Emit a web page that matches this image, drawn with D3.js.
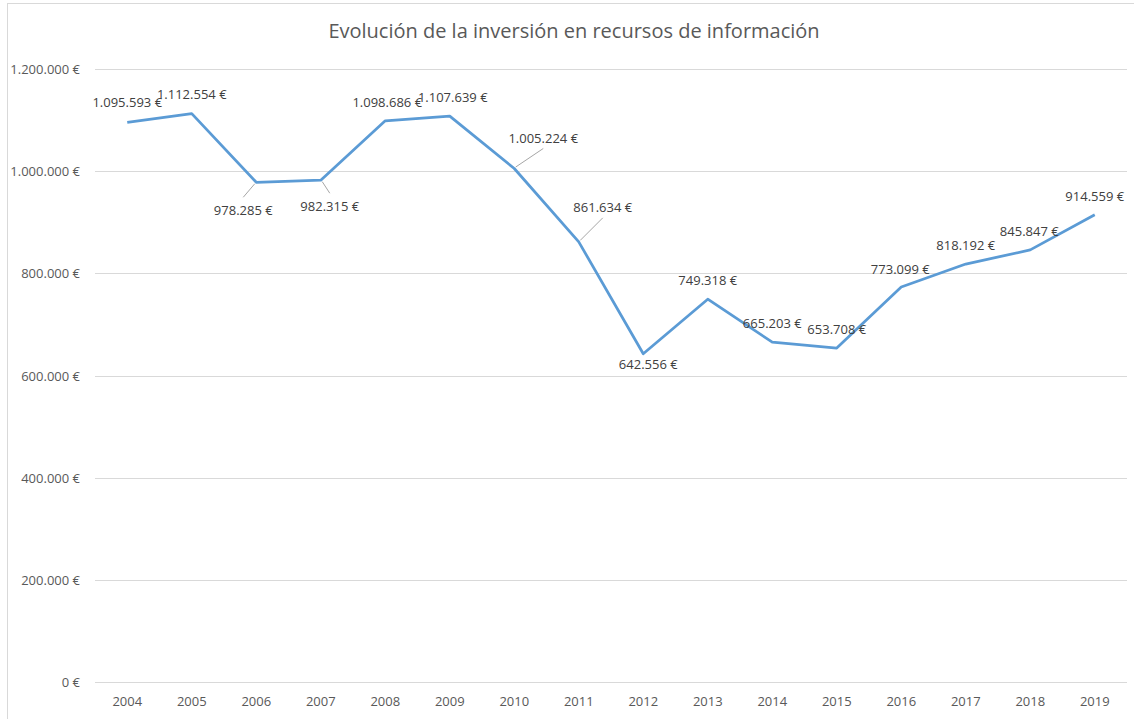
<!DOCTYPE html>
<html>
<head>
<meta charset="utf-8">
<script src="https://cdn.jsdelivr.net/npm/d3@7"></script>
<style>
  body { margin: 0; background: #fff; }
  svg { display: block; font-family: "Open Sans", sans-serif; }
  .grid line { stroke: #d9d9d9; stroke-width: 1; }
  .tick-label { fill: #595959; font-size: 13px; }
  .data-label { fill: #404040; font-size: 13px; }
  .leader { stroke: #a6a6a6; stroke-width: 1; }
  .title { fill: #595959; font-size: 20px; }
</style>
</head>
<body>
<svg id="chart" width="1134" height="719"></svg>
<script>
const TITLE = 'Evolución de la inversión en recursos de información';
const years = ['2004', '2005', '2006', '2007', '2008', '2009', '2010', '2011',
  '2012', '2013', '2014', '2015', '2016', '2017', '2018', '2019'];
const inversion = [1095593, 1112554, 978285, 982315, 1098686, 1107639, 1005224, 861634,
  642556, 749318, 665203, 653708, 773099, 818192, 845847, 914559];
const yTicks = [0, 200000, 400000, 600000, 800000, 1000000, 1200000];

// where excel put each data label, relative to its point (dx, dy) + optional leader line end
const labelPlacement = [
  { dx: 0, dy: -20 }, { dx: 0, dy: -20 },
  { dx: -13, dy: 28, lx: -13, ly: 15 }, { dx: 9, dy: 26, lx: 9, ly: 13 },
  { dx: 2, dy: -19 }, { dx: 3, dy: -19 },
  { dx: 29, dy: -30, lx: 29, ly: -20 }, { dx: 24, dy: -35, lx: 24, ly: -24 },
  { dx: 5, dy: 10 }, { dx: 0, dy: -19 }, { dx: 0, dy: -19 }, { dx: 0, dy: -19 },
  { dx: -1, dy: -18 }, { dx: 0, dy: -19 }, { dx: -1, dy: -19 }, { dx: 0, dy: -19 }
];

const MARGIN = { TOP: 69, BOTTOM: 37, LEFT: 95, RIGHT: 7 };
const WIDTH = 1134, HEIGHT = 719;

const euroLocale = d3.formatLocale({ decimal: ',', thousands: '.', grouping: [3], currency: ['', ' €'] });
const fmt = v => euroLocale.format(',d')(v) + ' €';

const svg = d3.select('#chart');

// chart area border (runs off the right and bottom like the screenshot)
svg.append('rect')
  .attr('x', 7.5).attr('y', 3.5)
  .attr('width', 1140).attr('height', 740)
  .attr('fill', 'none')
  .attr('stroke', '#d9d9d9');

svg.append('text')
  .attr('class', 'title')
  .attr('x', 574)
  .attr('y', 30)
  .attr('text-anchor', 'middle')
  .attr('dominant-baseline', 'central')
  .text(TITLE);

const x = d3.scaleBand()
  .domain(years)
  .range([MARGIN.LEFT, WIDTH - MARGIN.RIGHT]);

const y = d3.scaleLinear()
  .domain([0, 1200000])
  .range([HEIGHT - MARGIN.BOTTOM, MARGIN.TOP]);

const cx = d => x(d) + x.bandwidth() / 2;

const grid = svg.append('g').attr('class', 'grid');
grid.selectAll('line')
  .data(yTicks)
  .enter()
  .append('line')
  .attr('x1', MARGIN.LEFT)
  .attr('x2', WIDTH - MARGIN.RIGHT)
  .attr('y1', d => Math.round(y(d)) + 0.5)
  .attr('y2', d => Math.round(y(d)) + 0.5);

svg.selectAll('.ylab')
  .data(yTicks)
  .enter()
  .append('text')
  .attr('class', 'tick-label ylab')
  .attr('x', 80)
  .attr('y', d => y(d))
  .attr('text-anchor', 'end')
  .attr('dominant-baseline', 'central')
  .text(fmt);

svg.selectAll('.xlab')
  .data(years)
  .enter()
  .append('text')
  .attr('class', 'tick-label xlab')
  .attr('x', cx)
  .attr('y', 701)
  .attr('text-anchor', 'middle')
  .attr('dominant-baseline', 'central')
  .text(d => d);

const points = years.map((yr, i) => ({ year: yr, value: inversion[i], place: labelPlacement[i] }));

const line = d3.line()
  .x(d => cx(d.year))
  .y(d => y(d.value));

svg.append('path')
  .datum(points)
  .attr('d', line)
  .attr('fill', 'none')
  .attr('stroke', '#5b9bd5')
  .attr('stroke-width', 2.75)
  .attr('stroke-linejoin', 'round');

svg.selectAll('.leader')
  .data(points.filter(d => d.place.lx !== undefined))
  .enter()
  .append('line')
  .attr('class', 'leader')
  .attr('x1', d => cx(d.year) + Math.sign(d.place.lx) * 1.5)
  .attr('y1', d => y(d.value) + Math.sign(d.place.ly) * 1.5)
  .attr('x2', d => cx(d.year) + d.place.lx)
  .attr('y2', d => y(d.value) + d.place.ly);

svg.selectAll('.data-label')
  .data(points)
  .enter()
  .append('text')
  .attr('class', 'data-label')
  .attr('x', d => cx(d.year) + d.place.dx)
  .attr('y', d => y(d.value) + d.place.dy)
  .attr('text-anchor', 'middle')
  .attr('dominant-baseline', 'central')
  .text(d => fmt(d.value));
</script>
</body>
</html>
